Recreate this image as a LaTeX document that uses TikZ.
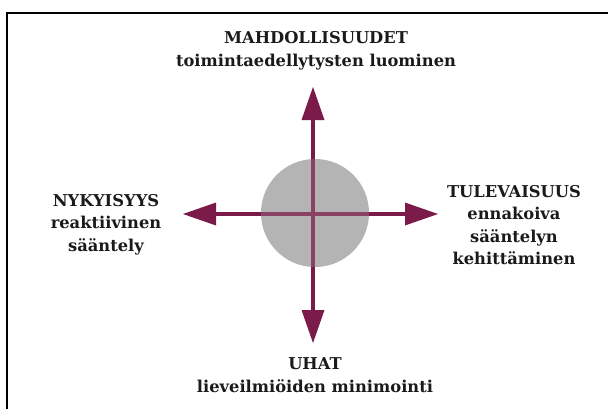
\documentclass[tikz,border=0pt]{standalone}
\usepackage{fontspec}
\setmainfont{DejaVu Serif}
\usetikzlibrary{arrows.meta}
\definecolor{maroon}{HTML}{7B1B4A}
\definecolor{disc}{HTML}{B4B4B4}
\definecolor{ink}{HTML}{1A1A1A}
\tikzset{
  lbl/.style={align=center, text=ink, font=\bfseries\fontsize{16.3}{22.5}\selectfont, inner sep=0pt},
  axis/.style={draw=maroon, line width=4pt, -{Triangle[length=33pt,width=23pt,line width=0pt]}}
}
\begin{document}
\begin{tikzpicture}[x=1pt,y=-1pt]
\useasboundingbox (0,0) rectangle (608,408);
\begin{scope}
\clip (0,0) rectangle (608,408);
\draw[line width=2pt] (6.5,12.5) rectangle (640,440);
\end{scope}
\fill[disc] (315,213) circle (54);
\coordinate (c) at (313,214);
\coordinate (n) at (313,87);
\coordinate (s) at (313,343);
\coordinate (w) at (183,214);
\coordinate (e) at (438,214);
\draw[axis] (c) -- (n);
\draw[axis] (c) -- (s);
\draw[axis] (c) -- (w);
\draw[axis] (c) -- (e);
\fill[disc, opacity=0.25] (315,213) circle (54);
\node[lbl] (top) at (316,51) {MAHDOLLISUUDET\\toimintaedellytysten luominen};
\node[lbl] (left) at (106,224.5) {NYKYISYYS\\reaktiivinen\\sääntely};
\node[lbl] (right) at (514,225) {TULEVAISUUS\\ennakoiva\\sääntelyn\\kehittäminen};
\node[lbl] (bottom) at (315,375) {UHAT\\lieveilmiöiden minimointi};
\end{tikzpicture}
\end{document}
